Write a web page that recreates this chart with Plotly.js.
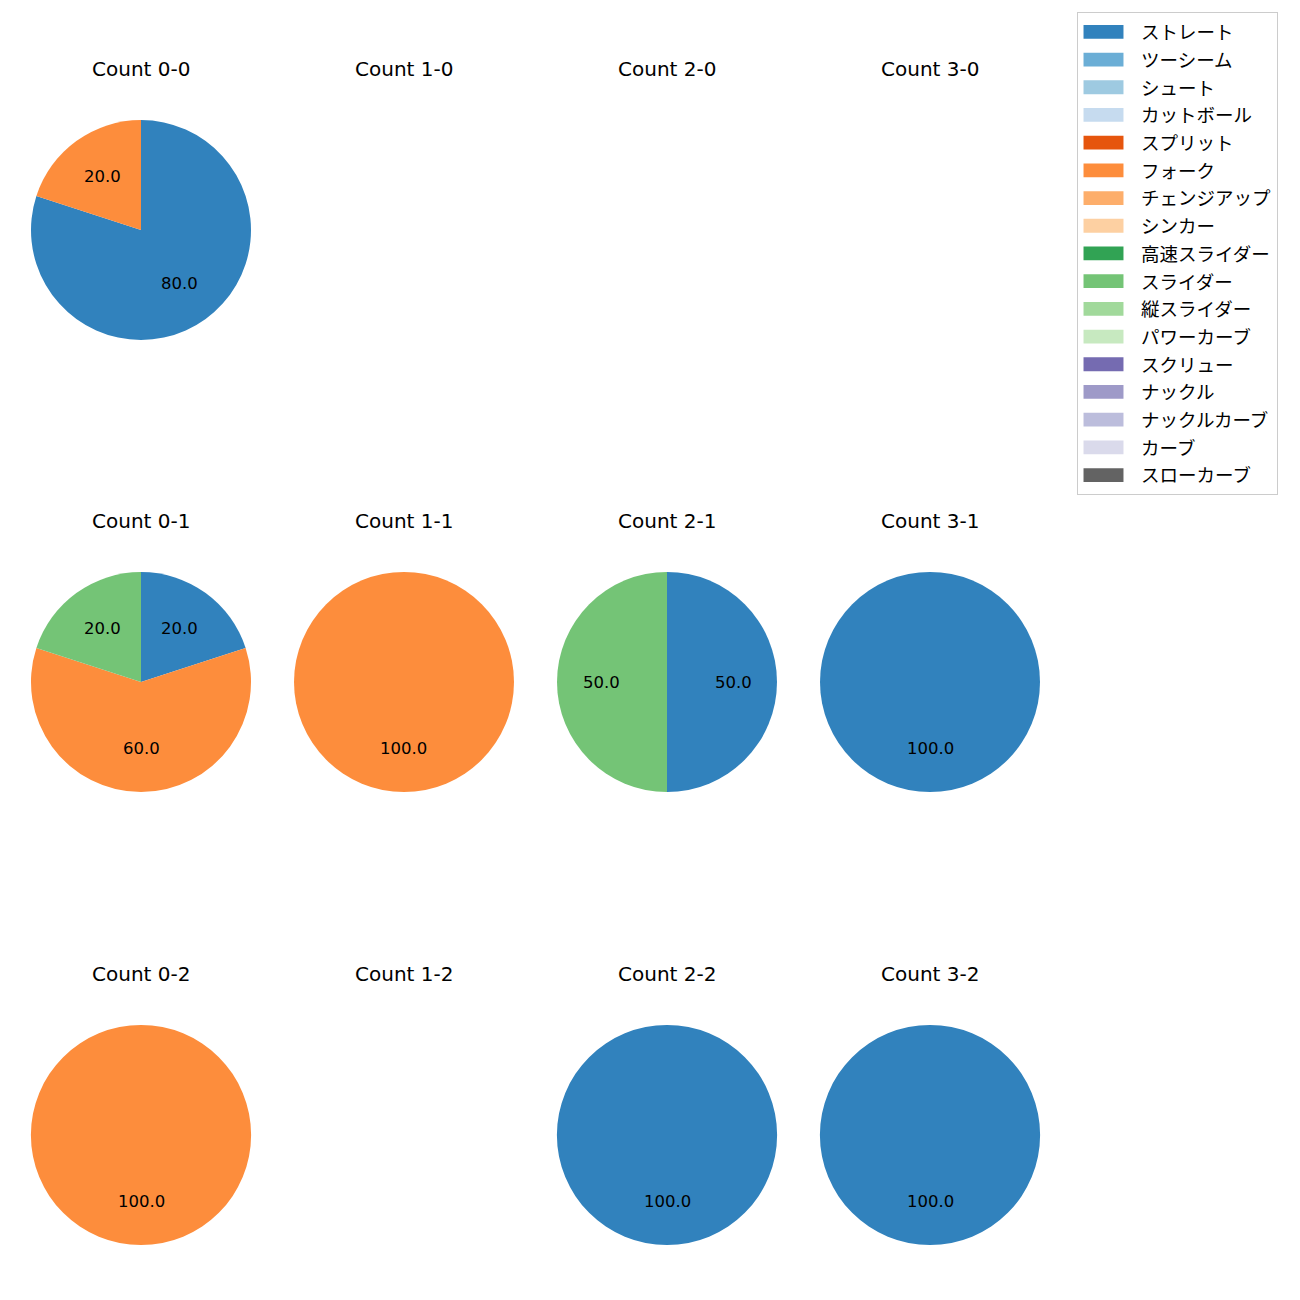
<!DOCTYPE html>
<html><head><meta charset="utf-8">
<script src="https://cdn.plot.ly/plotly-3.0.1.min.js"></script>
<style>
body{margin:0;background:#fff}
.legendtext{font-size:18.5px !important}
.legendpie{transform: translate(25.5px,0px) scale(3.33,1.15) !important}
</style>
</head><body><div id="chart" style="width:1300px;height:1300px"></div>
<script>
// ---- data ----
const pitchTypes = ['ストレート','ツーシーム','シュート','カットボール','スプリット','フォーク','チェンジアップ','シンカー','高速スライダー','スライダー','縦スライダー','パワーカーブ','スクリュー','ナックル','ナックルカーブ','カーブ','スローカーブ'];
const pitchColors = ['#3182bd','#6baed6','#9ecae1','#c6dbef','#e6550d','#fd8d3c','#fdae6b','#fdd0a2','#31a354','#74c476','#a1d99b','#c7e9c0','#756bb1','#9e9ac8','#bcbddc','#dadaeb','#636363'];
const countTitles = ['Count 0-0','Count 1-0','Count 2-0','Count 3-0','Count 0-1','Count 1-1','Count 2-1','Count 3-1','Count 0-2','Count 1-2','Count 2-2','Count 3-2'];
const straightPct = [80,0,0,0,20,0,50,100,0,0,100,100];
const forkPct     = [20,0,0,0,60,100,0,0,100,0,0,0];
const sliderPct   = [0,0,0,0,20,0,50,0,0,0,0,0];

// ---- layout constants ----
const W = 1300, H = 1300, R = 110;
const colCenters = [141,404,667,930];
const rowCenters = [230,682,1135];
const FONT = '"DejaVu Sans", "Noto Sans CJK JP", sans-serif';

const traces = [];
const annotations = [];
countTitles.forEach((title, i) => {
  const cx = colCenters[i % 4], cy = rowCenters[Math.floor(i / 4)];
  const values = pitchTypes.map(p => p === 'ストレート' ? straightPct[i] : p === 'フォーク' ? forkPct[i] : p === 'スライダー' ? sliderPct[i] : 0);
  const total = values.reduce((a, b) => a + b, 0);
  traces.push({
    type: 'pie', labels: pitchTypes, values: values,
    marker: {colors: pitchColors, line: {width: 0}},
    sort: false, direction: 'clockwise', rotation: 0,
    textinfo: 'none', hoverinfo: 'label+percent',
    domain: {x: [(cx - R) / W, (cx + R) / W], y: [1 - (cy + R) / H, 1 - (cy - R) / H]},
    showlegend: true
  });
  annotations.push({
    xref: 'paper', yref: 'paper', x: cx / W, y: 1 - (cy - 161) / H,
    xanchor: 'center', yanchor: 'middle', showarrow: false,
    text: title, font: {family: FONT, size: 20, color: '#000'}
  });
  if (total > 0) {
    let cum = 0;
    values.forEach(v => {
      if (v > 0) {
        const mid = (cum + v / 2) / total * 2 * Math.PI; // clockwise from top
        const lx = cx + 0.6 * R * Math.sin(mid), ly = cy - 0.6 * R * Math.cos(mid);
        annotations.push({
          xref: 'paper', yref: 'paper', x: lx / W, y: 1 - ly / H,
          xanchor: 'center', yanchor: 'middle', showarrow: false,
          text: (v / total * 100).toFixed(1), font: {family: FONT, size: 16.5, color: '#000'}
        });
      }
      cum += v;
    });
  }
});

const layout = {
  width: W, height: H, margin: {l: 0, r: 0, t: 0, b: 0},
  paper_bgcolor: '#fff', plot_bgcolor: '#fff',
  font: {family: FONT},
  showlegend: true,
  legend: {
    x: 1077 / W, y: 1 - 12 / H, xanchor: 'left', yanchor: 'top',
    bgcolor: '#fff', bordercolor: '#cccccc', borderwidth: 1,
    itemwidth: 53,
    font: {family: FONT, size: 19, color: '#000'}
  },
  annotations: annotations
};
Plotly.newPlot('chart', traces, layout, {displayModeBar: false});
</script></body></html>
